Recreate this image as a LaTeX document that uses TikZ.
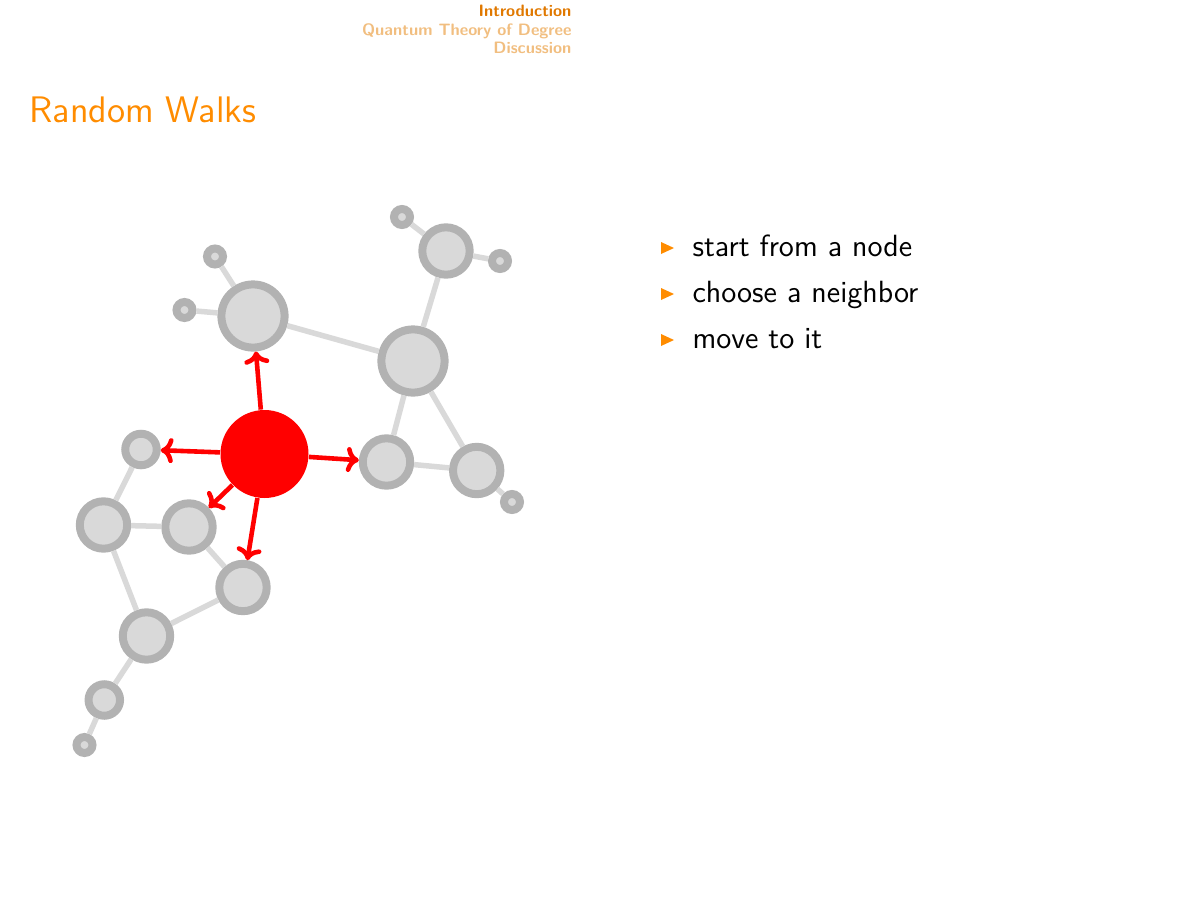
\documentclass[tikz,border=0pt]{standalone}
\usetikzlibrary{arrows.meta}
\definecolor{frametitle}{RGB}{255,140,0}
\definecolor{navcurrent}{RGB}{224,120,0}
\definecolor{navother}{RGB}{241,190,128}
\definecolor{nodefill}{RGB}{217,217,217}
\definecolor{nodering}{RGB}{178,178,178}
\definecolor{edgegray}{RGB}{217,217,217}
\newdimen\pxu \pxu=0.36pt
\begin{document}
\begin{tikzpicture}[x=0.36pt,y=-0.36pt,
  vertex/.style={circle,draw=nodering,fill=nodefill,line width=8*\pxu,inner sep=0pt},
  tiny/.style={vertex,minimum size=16*\pxu},
  small/.style={vertex,minimum size=31.5*\pxu},
  medium/.style={vertex,minimum size=47.4*\pxu},
  large/.style={vertex,minimum size=63.2*\pxu},
  walker/.style={circle,fill=red,inner sep=0pt,minimum size=88*\pxu},
  link/.style={draw=edgegray,line width=5.5*\pxu},
  step arrow/.style={draw=red,line width=4.6*\pxu,-{To[length=4.5pt,width=9pt]}},
  nav/.style={font=\fontsize{5.93pt}{7pt}\selectfont\sffamily\bfseries,inner sep=0pt,anchor=base east},
  bullettext/.style={font=\fontsize{11.05pt}{13pt}\selectfont\sffamily,inner sep=0pt,anchor=base west},
]
\useasboundingbox (0,0) rectangle (1200,901);

% section navigation
\node[nav,text=navcurrent] (navA) at (572,16.7) {Introduction};
\node[nav,text=navother] (navB) at (572,35) {Quantum Theory of Degree};
\node[nav,text=navother] (navC) at (572,53.3) {Discussion};

% frame title
\node[font=\fontsize{13.3pt}{15pt}\selectfont\sffamily,text=frametitle,inner sep=0pt,anchor=base west] (title) at (29,122.7) {Random Walks};

% graph vertices
\node[large] (A) at (253,316) {};
\node[tiny] (a1) at (215,256.5) {};
\node[tiny] (a2) at (184.5,310) {};
\node[large] (B) at (413,361) {};
\node[medium] (C) at (446,251) {};
\node[tiny] (c1) at (402,217) {};
\node[tiny] (c2) at (500,261) {};
\node[medium] (D) at (386.5,462) {};
\node[medium] (E) at (476.7,470.5) {};
\node[tiny] (e1) at (512,502) {};
\node[small] (L) at (141,449.5) {};
\node[medium] (F) at (103.5,525) {};
\node[medium] (G) at (189,527) {};
\node[medium] (H) at (243,587.5) {};
\node[medium] (I) at (146.5,636) {};
\node[small] (J) at (104.3,700) {};
\node[tiny] (j1) at (84.5,745) {};
\node[walker] (W) at (264.5,454) {};

% graph edges
\path[link] (A) -- (a1) (A) -- (a2) (A) -- (B)
  (B) -- (C) (C) -- (c1) (C) -- (c2)
  (B) -- (D) (B) -- (E) (D) -- (E) (E) -- (e1)
  (L) -- (F) (F) -- (G) (F) -- (I) (G) -- (H) (H) -- (I)
  (I) -- (J) (J) -- (j1);

% possible next steps of the walker
\draw[step arrow] (W) -- (A);
\draw[step arrow] (W) -- (L);
\draw[step arrow] (W) -- (D);
\draw[step arrow] (W) -- (G);
\draw[step arrow] (W) -- (H);

% item list
\foreach \yy/\name/\txt in {256.5/i1/start from a node,302.5/i2/choose a neighbor,348.5/i3/move to it}{
  \fill[frametitle] (661,\yy-14.5) -- (661,\yy-2.5) -- (674,\yy-8.5) -- cycle;
  \node[bullettext] (\name) at (692,\yy) {\txt};
}
\end{tikzpicture}
\end{document}
